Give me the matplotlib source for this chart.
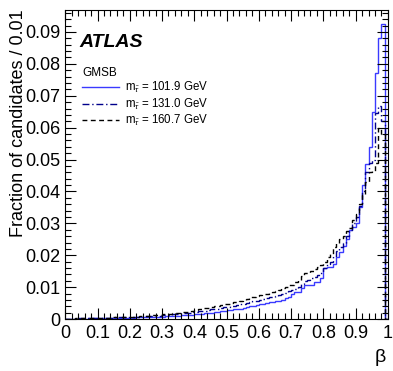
import numpy as np
import matplotlib
matplotlib.use("Agg")
import matplotlib.pyplot as plt
from matplotlib.ticker import MultipleLocator, FuncFormatter

plt.rcParams['font.family'] = ['Liberation Sans', 'DejaVu Sans']
plt.rcParams['mathtext.fontset'] = 'custom'
plt.rcParams['mathtext.rm'] = 'Liberation Sans'
plt.rcParams['mathtext.it'] = 'Liberation Sans:italic'

# bin edges in beta (width 0.01)
beta_edges = np.linspace(0, 1, 101)

# fraction of candidates per 0.01
frac_1019 = [
    0.0000, 0.0000, 0.0001, 0.0001, 0.0001, 0.0001, 0.0001, 0.0002, 0.0002, 0.0002,
    0.0002, 0.0002, 0.0003, 0.0002, 0.0003, 0.0003, 0.0003, 0.0004, 0.0003, 0.0004,
    0.0004, 0.0004, 0.0005, 0.0005, 0.0005, 0.0006, 0.0006, 0.0007, 0.0007, 0.0008,
    0.0008, 0.0009, 0.0009, 0.0010, 0.0010, 0.0011, 0.0012, 0.0012, 0.0013, 0.0014,
    0.0015, 0.0016, 0.0016, 0.0018, 0.0019, 0.0020, 0.0021, 0.0022, 0.0024, 0.0025,
    0.0027, 0.0029, 0.0030, 0.0031, 0.0033, 0.0035, 0.0038, 0.0040, 0.0041, 0.0043,
    0.0046, 0.0048, 0.0050, 0.0052, 0.0054, 0.0056, 0.0056, 0.0060, 0.0065, 0.0069,
    0.0080, 0.0085, 0.0085, 0.0097, 0.0106, 0.0106, 0.0106, 0.0116, 0.0116, 0.0130,
    0.0159, 0.0163, 0.0163, 0.0174, 0.0194, 0.0210, 0.0230, 0.0250, 0.0280, 0.0290,
    0.0300, 0.0350, 0.0420, 0.0487, 0.0540, 0.0650, 0.0770, 0.0880, 0.0925, 0.0000,
]
frac_1310 = [
    0.0001, 0.0001, 0.0001, 0.0001, 0.0002, 0.0002, 0.0002, 0.0002, 0.0003, 0.0003,
    0.0003, 0.0003, 0.0004, 0.0004, 0.0004, 0.0005, 0.0005, 0.0005, 0.0006, 0.0006,
    0.0006, 0.0007, 0.0007, 0.0008, 0.0008, 0.0009, 0.0009, 0.0010, 0.0011, 0.0011,
    0.0012, 0.0013, 0.0014, 0.0015, 0.0016, 0.0017, 0.0018, 0.0019, 0.0020, 0.0021,
    0.0022, 0.0024, 0.0025, 0.0026, 0.0028, 0.0030, 0.0031, 0.0033, 0.0035, 0.0037,
    0.0038, 0.0040, 0.0042, 0.0044, 0.0046, 0.0048, 0.0050, 0.0053, 0.0056, 0.0058,
    0.0060, 0.0063, 0.0066, 0.0068, 0.0070, 0.0072, 0.0075, 0.0078, 0.0082, 0.0087,
    0.0090, 0.0095, 0.0100, 0.0110, 0.0118, 0.0122, 0.0128, 0.0132, 0.0138, 0.0145,
    0.0160, 0.0172, 0.0180, 0.0198, 0.0212, 0.0225, 0.0240, 0.0260, 0.0280, 0.0300,
    0.0320, 0.0355, 0.0400, 0.0460, 0.0490, 0.0500, 0.0645, 0.0667, 0.0620, 0.0000,
]
frac_1607 = [
    0.0001, 0.0001, 0.0001, 0.0002, 0.0002, 0.0002, 0.0002, 0.0003, 0.0003, 0.0003,
    0.0003, 0.0004, 0.0004, 0.0004, 0.0005, 0.0005, 0.0005, 0.0006, 0.0006, 0.0007,
    0.0007, 0.0008, 0.0008, 0.0009, 0.0010, 0.0010, 0.0011, 0.0012, 0.0013, 0.0014,
    0.0015, 0.0016, 0.0017, 0.0018, 0.0019, 0.0020, 0.0021, 0.0022, 0.0023, 0.0025,
    0.0029, 0.0031, 0.0032, 0.0034, 0.0036, 0.0038, 0.0040, 0.0042, 0.0044, 0.0046,
    0.0048, 0.0050, 0.0053, 0.0055, 0.0058, 0.0060, 0.0064, 0.0068, 0.0070, 0.0072,
    0.0075, 0.0078, 0.0080, 0.0083, 0.0086, 0.0088, 0.0092, 0.0096, 0.0100, 0.0106,
    0.0108, 0.0115, 0.0122, 0.0135, 0.0143, 0.0145, 0.0150, 0.0158, 0.0162, 0.0170,
    0.0180, 0.0195, 0.0205, 0.0225, 0.0237, 0.0250, 0.0260, 0.0275, 0.0287, 0.0310,
    0.0330, 0.0360, 0.0390, 0.0430, 0.0460, 0.0465, 0.0490, 0.0600, 0.0580, 0.0000,
]

labels = [r'm$_{\tilde{\tau}}$ = 101.9 GeV',
          r'm$_{\tilde{\tau}}$ = 131.0 GeV',
          r'm$_{\tilde{\tau}}$ = 160.7 GeV']

fig = plt.figure(figsize=(3.93, 3.71), dpi=100)
ax = fig.add_axes([0.166, 0.140, 0.821, 0.834])

ax.stairs(frac_1019, beta_edges, color='#3a3aff', lw=1.0, ls='-', label=labels[0])
ax.stairs(frac_1310, beta_edges, color='#00008b', lw=1.0, ls=(0, (5, 2, 1, 2)), label=labels[1])
ax.stairs(frac_1607, beta_edges, color='black', lw=1.0, ls=(0, (3.5, 2.5)), label=labels[2])

ax.set_xlim(0, 1)
ax.set_ylim(0, 0.097)

ax.xaxis.set_major_locator(MultipleLocator(0.1))
ax.xaxis.set_minor_locator(MultipleLocator(0.02))
ax.yaxis.set_major_locator(MultipleLocator(0.01))
ax.yaxis.set_minor_locator(MultipleLocator(0.002))
ax.xaxis.set_major_formatter(FuncFormatter(lambda v, p: '%g' % round(v, 2)))
ax.yaxis.set_major_formatter(FuncFormatter(lambda v, p: '0' if abs(v) < 1e-9 else '%.2f' % v))
ax.tick_params(which='both', direction='in', top=True, right=True, labelsize=13, width=0.8)
ax.tick_params(which='major', length=8)
ax.tick_params(which='minor', length=4)
ax.tick_params(axis='x', pad=4)
for s in ax.spines.values():
    s.set_linewidth(0.8)

ax.set_ylabel('Fraction of candidates / 0.01', fontsize=13, loc='top')
ax.yaxis.set_label_coords(-0.12, 1.0)
ax.set_xlabel(r'$\mathrm{\beta}$', fontsize=14, loc='right')
ax.xaxis.set_label_coords(0.995, -0.09)

ax.text(0.045, 0.895, 'ATLAS', transform=ax.transAxes, fontsize=14,
        fontweight='bold', fontstyle='italic', va='center')

ax.legend(title='GMSB', loc='upper left', bbox_to_anchor=(0.027, 0.84),
          frameon=False, fontsize=8.3, title_fontsize=8.5, alignment='left',
          handlelength=3.2, handletextpad=0.5, labelspacing=0.1, borderpad=0.2)

fig.savefig('out.png', dpi=100)
